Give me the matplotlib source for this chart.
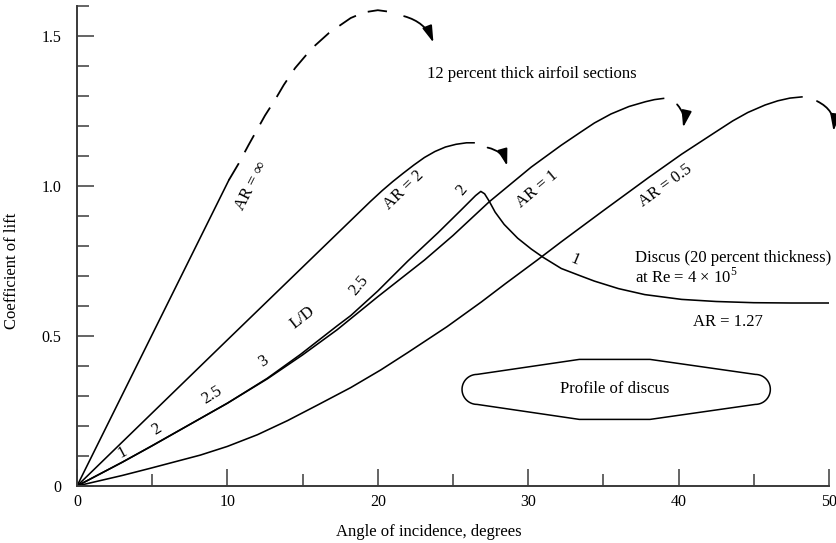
import numpy as np
import matplotlib
matplotlib.use("Agg")
import matplotlib.pyplot as plt
from matplotlib.patches import FancyArrowPatch, PathPatch
from matplotlib.path import Path

plt.rcParams['font.family'] = ['Liberation Serif', 'DejaVu Serif']
plt.rcParams['mathtext.fontset'] = 'custom'
plt.rcParams['mathtext.rm'] = 'Liberation Serif'
plt.rcParams['lines.scale_dashes'] = False

# ---------------- data (angle of incidence in degrees, lift coefficient) ----------
ar_inf_x = [0, 10.1]
ar_inf_y = [0, 1.02]
ar_inf_dash_x = [10.1, 10.75, 11.4, 12.0, 12.5, 13.2, 13.75, 14.5, 15.6, 16.75, 18.2, 19.1, 20.0, 20.9]
ar_inf_dash_y = [1.02, 1.075, 1.136, 1.19, 1.235, 1.29, 1.337, 1.393, 1.458, 1.51, 1.56, 1.579, 1.586, 1.58]

ar2_x = [0, 10, 19.5, 20.3, 21.0, 21.7, 22.4, 23.1, 23.8, 24.5, 25.2, 25.9, 26.4]
ar2_y = [0, 0.487, 0.948, 0.985, 1.015, 1.043, 1.07, 1.095, 1.115, 1.13, 1.139, 1.144, 1.144]

ar1_x = [0, 3, 5, 8.2, 10, 12.65, 15, 17.3, 20, 23.1, 25, 27.4, 30.2, 32.2, 33.5, 34.4, 35.5, 36.7,
         37.8, 38.4, 39]
ar1_y = [0, 0.079, 0.134, 0.225, 0.276, 0.357, 0.437, 0.521, 0.631, 0.753, 0.835, 0.947, 1.063, 1.136,
         1.18, 1.21, 1.24, 1.265, 1.281, 1.288, 1.292]

ar05_x = [0, 3, 4.87, 8.2, 10, 12, 14, 16, 18.2, 20.2, 22, 24.6, 26.9, 28.5, 30.6, 32.2, 35, 38, 40.2, 42.4,
          43.6, 44.6, 45.75, 46.6, 47.4, 48.2]
ar05_y = [0, 0.035, 0.059, 0.103, 0.132, 0.171, 0.218, 0.27, 0.328, 0.387, 0.445, 0.531, 0.614, 0.675, 0.753,
          0.814, 0.918, 1.028, 1.106, 1.178, 1.217, 1.245, 1.27, 1.284, 1.293, 1.297]

discus_x = [0, 3, 4.87, 8.2, 10, 12.65, 14.87, 17.3, 18.2, 20, 22, 24, 25.5, 26.5, 26.85, 27.1, 27.4, 27.8,
            28.4, 29.3, 30.2, 31, 32.2, 33.5, 34.4, 36, 37.75, 40.2, 42.5, 45, 47.5, 50]
discus_y = [0, 0.079, 0.131, 0.225, 0.276, 0.359, 0.439, 0.534, 0.568, 0.65, 0.75, 0.844, 0.918, 0.968,
            0.982, 0.974, 0.95, 0.913, 0.872, 0.826, 0.79, 0.762, 0.725, 0.7, 0.683, 0.658, 0.638, 0.622,
            0.615, 0.611, 0.61, 0.61]

# L/D annotations along the discus curve: (text, x, y, rotation)
ld_labels = ["1", "2", "2.5", "3", "L/D", "2.5", "2", "1"]
ld_x = [2.98, 5.3, 8.98, 12.4, 14.98, 18.75, 25.6, 33.1]
ld_y = [0.11, 0.187, 0.303, 0.414, 0.56, 0.67, 0.985, 0.755]
ld_rot = [28, 32, 32, 33, 38, 50, 50, -23]

# curve labels
ar_labels = ["AR = \u221e", "AR = 2", "AR = 1", "AR = 0.5"]
ar_lab_x = [11.6, 21.75, 30.6, 39.1]
ar_lab_y = [1.0, 0.985, 0.99, 1.0]
ar_lab_rot = [63, 44, 40, 36]

# stall arrows: (tail x, tail y, head x, head y, curvature)
arrow_tail_x = [21.75, 27.3, 39.9, 49.2]
arrow_tail_y = [1.566, 1.128, 1.272, 1.283]
arrow_head_x = [23.7, 28.6, 40.3, 50.3]
arrow_head_y = [1.478, 1.067, 1.195, 1.183]
arrow_rad = [-0.25, -0.3, -0.25, -0.35]

# discus profile sketch (outline parameters in data units)
prof_xl, prof_xr = 26.6, 45.1      # ends of straight edges
prof_flat = [33.4, 38.1]           # flat top/bottom segment
prof_yc = 0.322
prof_half_end = 0.05
prof_half_mid = 0.1
prof_round = 1.0

x_ticks = [0, 10, 20, 30, 40, 50]
y_ticks = [0, 0.5, 1.0, 1.5]
y_tick_labels = ["0", "0.5", "1.0", "1.5"]

# ---------------- figure ----------------
fig = plt.figure(figsize=(8.37, 5.43), dpi=100)
ax = fig.add_axes([77 / 837, 57 / 543, 752 / 837, 480 / 543])
ax.set_xlim(0, 50)
ax.set_ylim(0, 1.6)

lw = 1.15
ax.plot(ar_inf_x, ar_inf_y, color='black', lw=lw)
ax.plot(ar_inf_dash_x, ar_inf_dash_y, color='black', lw=1.3, dashes=(14, 9))
ax.plot(ar2_x, ar2_y, color='black', lw=lw)
ax.plot(ar1_x, ar1_y, color='black', lw=lw)
ax.plot(ar05_x, ar05_y, color='black', lw=lw)
ax.plot(discus_x, discus_y, color='black', lw=lw, solid_joinstyle='round')

for tx, ty, hx, hy, r in zip(arrow_tail_x, arrow_tail_y, arrow_head_x, arrow_head_y, arrow_rad):
    arr = FancyArrowPatch((tx, ty), (hx, hy), connectionstyle=f"arc3,rad={r}",
                          arrowstyle="-|>,head_length=1.0,head_width=0.3", mutation_scale=10,
                          color='black', lw=1.3, clip_on=False, shrinkA=0, shrinkB=0)
    ax.add_patch(arr)

fs = 12
for t, x, y, r in zip(ar_labels, ar_lab_x, ar_lab_y, ar_lab_rot):
    ax.text(x, y, t, rotation=r, ha='center', va='center', fontsize=fs,
            rotation_mode='anchor')

for t, x, y, r in zip(ld_labels, ld_x, ld_y, ld_rot):
    ax.text(x, y, t, rotation=r, ha='center', va='center', fontsize=fs,
            rotation_mode='anchor')

ax.text(23.3, 1.373, "12 percent thick airfoil sections", ha='left', va='center', fontsize=fs)
ax.text(37.1, 0.76, "Discus (20 percent thickness)", ha='left', va='center', fontsize=fs,
        clip_on=False)
ax.text(37.1, 0.698, r"at Re = 4 $\times$ 10$^5$", ha='left', va='center', fontsize=fs)
ax.text(43.3, 0.548, "AR = 1.27", ha='center', va='center', fontsize=fs)
ax.text(35.75, 0.322, "Profile of discus", ha='center', va='center', fontsize=fs)

# discus profile outline
t = np.linspace(np.pi / 2, 3 * np.pi / 2, 30)
left_arc = np.column_stack([prof_xl + prof_round * np.cos(t), prof_yc + prof_half_end * np.sin(t)])
t2 = np.linspace(-np.pi / 2, np.pi / 2, 30)
right_arc = np.column_stack([prof_xr + prof_round * np.cos(t2), prof_yc + prof_half_end * np.sin(t2)])
verts = np.vstack([
    left_arc,
    [[prof_flat[0], prof_yc - prof_half_mid], [prof_flat[1], prof_yc - prof_half_mid]],
    right_arc,
    [[prof_flat[1], prof_yc + prof_half_mid], [prof_flat[0], prof_yc + prof_half_mid]],
    left_arc[:1],
])
ax.add_patch(PathPatch(Path(verts), facecolor='none', edgecolor='black', lw=1.1))

# axes styling
for s in ['top', 'right']:
    ax.spines[s].set_visible(False)
for s in ['left', 'bottom']:
    ax.spines[s].set_color('#3a3a3a')
    ax.spines[s].set_linewidth(1.4)

ax.set_xticks(x_ticks)
ax.set_xticks([5, 15, 25, 35, 45], minor=True)
ax.set_yticks(y_ticks)
ax.set_yticklabels(y_tick_labels)
ax.set_yticks([0.1, 0.2, 0.3, 0.4, 0.6, 0.7, 0.8, 0.9, 1.1, 1.2, 1.3, 1.4, 1.6], minor=True)
ax.tick_params(which='major', direction='in', length=12.5, width=1.1, color='#3a3a3a',
               labelsize=11.5, pad=6)
ax.tick_params(which='minor', direction='in', length=8.5, width=1.1, color='#3a3a3a')
ax.tick_params(axis='y', which='major', pad=11)

ax.set_xlabel("Angle of incidence, degrees", fontsize=12)
ax.set_ylabel("Coefficient of lift", fontsize=12)
ax.xaxis.set_label_coords(0.468, -0.096)
ax.xaxis.label.set_va('center')
ax.yaxis.set_label_coords(-0.086, 0.448)
ax.yaxis.label.set_va('center')

fig.savefig("out.png", dpi=100)
